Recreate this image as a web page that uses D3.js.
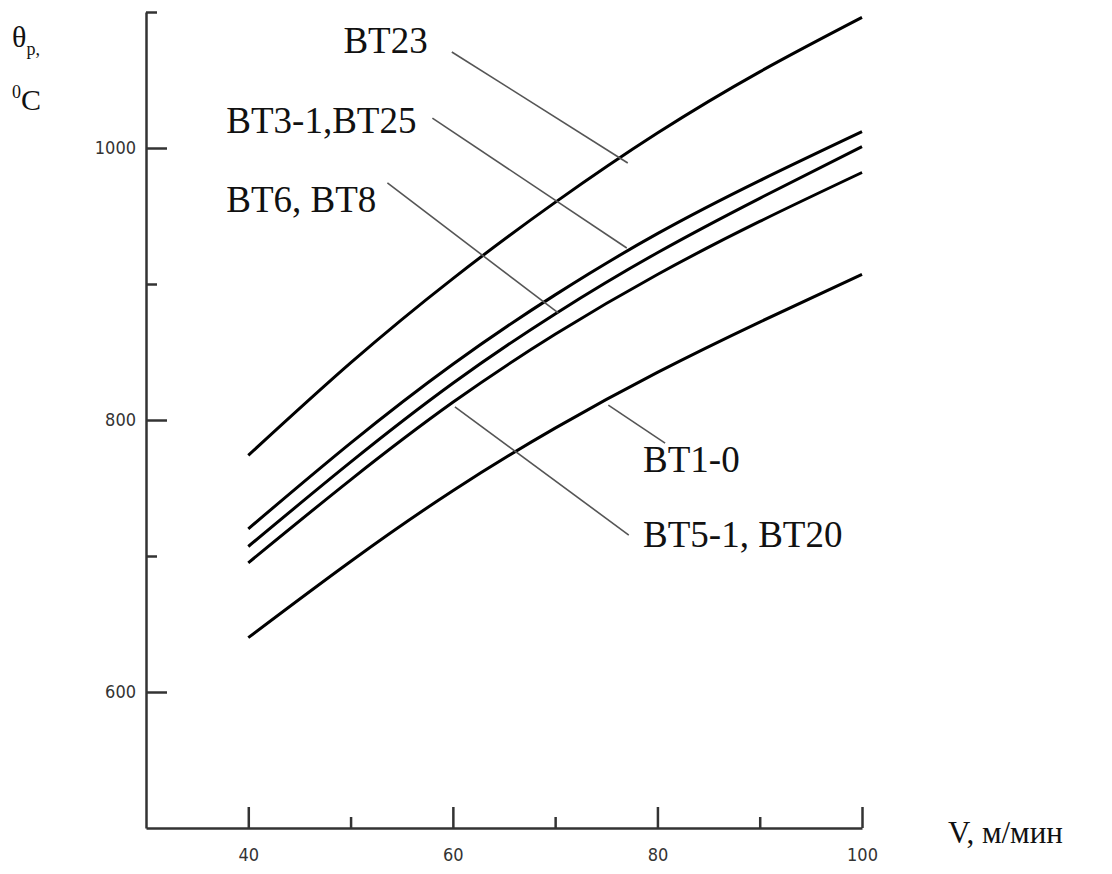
<!DOCTYPE html>
<html>
<head>
<meta charset="utf-8">
<script src="https://cdn.jsdelivr.net/npm/d3@7"></script>
<style>
  body { margin: 0; background: #fff; }
  svg { display: block; }
</style>
</head>
<body>
<div id="chart"></div>
<script>
// cutting speed V, m/min
const speeds = [40, 50, 60, 70, 80, 90, 100];

// temperature curves, deg C
const bt23 = [774, 842, 904, 960, 1011, 1056, 1096];
const bt3_1 = [720, 783, 841, 892, 937, 976, 1012];
const bt6 = [707, 769, 827, 878, 923, 963, 1001];
const bt5_1 = [695, 756, 813, 863, 907, 946, 982];
const bt1_0 = [640, 696, 748, 794, 835, 872, 907];

const seriesNames = ['BT23', 'BT3-1,BT25', 'BT6, BT8', 'BT5-1, BT20', 'BT1-0'];
const seriesValues = [bt23, bt3_1, bt6, bt5_1, bt1_0];

// label anchors [V, θ] and leader lines [[V, θ], [V, θ]]
const labelPos = [[49.3, 1070], [37.85, 1011], [37.85, 953], [78.6, 706.6], [78.6, 761.8]];
const leaders = [
  [[59.9, 1070.6], [77.1, 989]],
  [[58.0, 1022], [77.0, 926.5]],
  [[53.6, 974.3], [70.3, 878.7]],
  [[60.2, 809.6], [77.2, 715.4]],
  [[75.2, 811], [80.75, 783]]
];

const xMajor = [40, 60, 80, 100];
const xMinor = [50, 70, 90];
const yMajor = [600, 800, 1000];
const yMinor = [700, 900, 1100];

const width = 1112, height = 874;

const x = d3.scaleLinear().domain([30, 100]).range([146, 862]);
const y = d3.scaleLinear().domain([500, 1100]).range([828, 12]);

const svg = d3.select('#chart').append('svg')
  .attr('width', width)
  .attr('height', height);

// axes
const axisStyle = g => {
  g.selectAll('path, line').attr('stroke', '#333').attr('stroke-width', 2.5);
  g.selectAll('text').attr('font-family', 'DejaVu Sans Condensed, DejaVu Sans')
    .attr('font-size', 18).attr('fill', '#333');
};

svg.append('g')
  .attr('transform', `translate(0,${y(500)})`)
  .call(d3.axisBottom(x).tickValues(xMajor).tickFormat(d3.format('d'))
    .tickSizeInner(-21).tickSizeOuter(0).tickPadding(20))
  .call(axisStyle);
svg.append('g')
  .attr('transform', `translate(0,${y(500)})`)
  .call(d3.axisBottom(x).tickValues(xMinor).tickSizeInner(-11).tickSizeOuter(0).tickFormat(''))
  .call(axisStyle)
  .call(g => g.select('.domain').remove());

svg.append('g')
  .attr('transform', `translate(${x(30)},0)`)
  .call(d3.axisLeft(y).tickValues(yMajor).tickFormat(d3.format('d'))
    .tickSizeInner(-21).tickSizeOuter(0).tickPadding(10))
  .call(axisStyle);
svg.append('g')
  .attr('transform', `translate(${x(30)},0)`)
  .call(d3.axisLeft(y).tickValues(yMinor).tickSizeInner(-11).tickSizeOuter(0).tickFormat(''))
  .call(axisStyle)
  .call(g => g.select('.domain').remove());

// curves
const line = d3.line()
  .x((d, i) => x(speeds[i]))
  .y(d => y(d))
  .curve(d3.curveNatural);

svg.append('g').selectAll('path')
  .data(seriesValues)
  .join('path')
  .attr('d', line)
  .attr('fill', 'none')
  .attr('stroke', '#000')
  .attr('stroke-width', 3);

// leader lines
svg.append('g').selectAll('line')
  .data(leaders)
  .join('line')
  .attr('x1', d => x(d[0][0])).attr('y1', d => y(d[0][1]))
  .attr('x2', d => x(d[1][0])).attr('y2', d => y(d[1][1]))
  .attr('stroke', '#555')
  .attr('stroke-width', 1.6);

// curve labels
svg.append('g').selectAll('text')
  .data(seriesNames)
  .join('text')
  .attr('x', (d, i) => x(labelPos[i][0]))
  .attr('y', (d, i) => y(labelPos[i][1]))
  .attr('font-family', 'Liberation Serif')
  .attr('font-size', 37)
  .attr('fill', '#111')
  .text(d => d);

// axis titles
const yTitle = svg.append('text')
  .attr('x', 12).attr('y', 47)
  .attr('font-family', 'Liberation Serif')
  .attr('font-size', 30)
  .attr('fill', '#111');
yTitle.append('tspan').text('θ');
yTitle.append('tspan').attr('font-size', 18).attr('dy', 8).text('p,');

const yUnit = svg.append('text')
  .attr('x', 12).attr('y', 110)
  .attr('font-family', 'Liberation Serif')
  .attr('font-size', 30)
  .attr('fill', '#111');
yUnit.append('tspan').attr('font-size', 18).attr('dy', -12).text('0');
yUnit.append('tspan').attr('dy', 12).text('C');

svg.append('text')
  .attr('x', 948).attr('y', 843)
  .attr('font-family', 'Liberation Serif')
  .attr('font-size', 31)
  .attr('fill', '#111')
  .text('V, м/мин');
</script>
</body>
</html>
